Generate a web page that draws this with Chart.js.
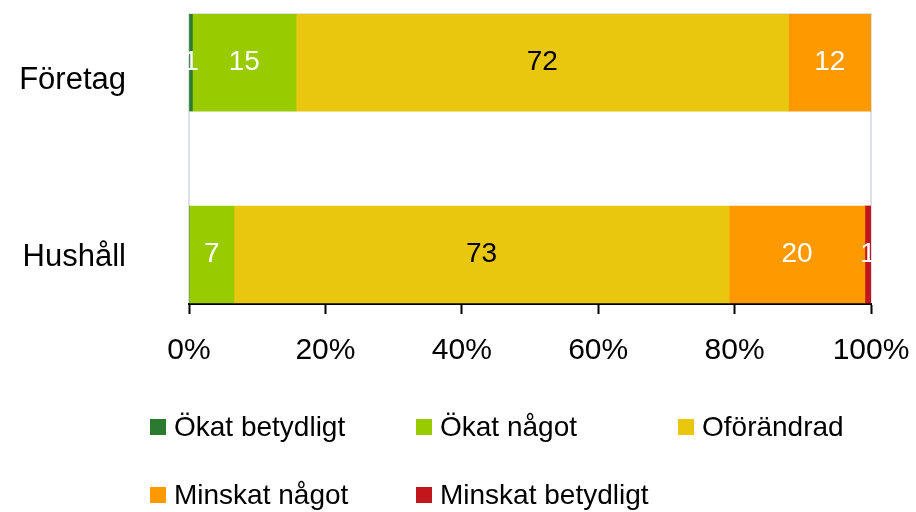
<!DOCTYPE html>
<html>
<head>
<meta charset="utf-8">
<script src="https://cdn.jsdelivr.net/npm/chart.js@4"></script>
<style>
  body { margin: 0; background: #fff; }
  #wrap { position: relative; width: 916px; height: 512px; }
  #legend {
    position: absolute; left: 150px; top: 393px;
    display: grid; grid-template-columns: 266px 262px 240px; grid-auto-rows: 68px;
    font-family: "Liberation Sans", Arial, sans-serif; font-size: 28px; color: #000;
  }
  .item { display: flex; align-items: center; height: 68px; white-space: nowrap; }
  .box { width: 16px; height: 16px; margin-right: 8px; flex: none; }
</style>
</head>
<body>
<div id="wrap">
  <canvas id="myChart" width="916" height="512"></canvas>
  <div id="legend"></div>
</div>
<script>
// categories (rows, top to bottom)
var categories = ["Företag", "Hushåll"]

// share of answers in percent, one array per answer
var okatBetydligt    = [0.5, 0]
var okatNagot        = [15.2, 6.6]
var oforandrad       = [72.2, 72.6]
var minskatNagot     = [12.1, 19.9]
var minskatBetydligt = [0, 0.9]

var seriesNames  = ["Ökat betydligt", "Ökat något", "Oförändrad", "Minskat något", "Minskat betydligt"]
var seriesValues = [okatBetydligt, okatNagot, oforandrad, minskatNagot, minskatBetydligt]
var seriesColors = ["#2b7a30", "#99cc00", "#e8c70e", "#ff9900", "#c1161b"]
var labelColors  = ["#fff", "#fff", "#000", "#fff", "#fff"]

var xTicks = [0, 20, 40, 60, 80, 100]

var FONT = "'Liberation Sans', Arial, sans-serif"

var datasets = seriesValues.map(function (vals, i) {
  return {
    label: seriesNames[i],
    backgroundColor: seriesColors[i],
    borderWidth: 0,
    barThickness: 97,
    data: vals.map(function (v, j) { return { x: v, y: j } })
  }
})

// thin grey frame round the plot area
var frame = {
  id: "frame",
  beforeDraw: function (chart) {
    var a = chart.chartArea, ctx = chart.ctx
    ctx.save()
    ctx.strokeStyle = "#d3d6e2"
    ctx.lineWidth = 1.5
    ctx.strokeRect(a.left, a.top, a.right - a.left, a.bottom - a.top)
    ctx.restore()
  }
}

// rounded value inside every segment
var valueLabels = {
  id: "valueLabels",
  afterDatasetsDraw: function (chart) {
    var ctx = chart.ctx
    ctx.save()
    ctx.font = "28px " + FONT
    ctx.textAlign = "center"
    ctx.textBaseline = "middle"
    chart.data.datasets.forEach(function (ds, i) {
      chart.getDatasetMeta(i).data.forEach(function (bar, j) {
        var v = Math.round(ds.data[j].x)
        if (!v) return
        var p = bar.getCenterPoint()
        ctx.fillStyle = labelColors[i]
        ctx.fillText(v, p.x, p.y)
      })
    })
    ctx.restore()
  }
}

var ctx = document.getElementById("myChart").getContext("2d")
var chart = new Chart(ctx, {
  type: "bar",
  data: { datasets: datasets },
  plugins: [frame, valueLabels],
  options: {
    indexAxis: "y",
    responsive: false,
    animation: false,
    devicePixelRatio: 1,
    layout: { padding: { top: 14, right: 45, left: 0, bottom: 0 } },
    plugins: { legend: { display: false }, tooltip: { enabled: false } },
    scales: {
      x: {
        stacked: true,
        min: 0,
        max: 100,
        afterBuildTicks: function (s) { s.ticks = xTicks.map(function (v) { return { value: v } }) },
        afterFit: function (s) { s.height = 512 - 304 },
        border: { display: true, color: "#000", width: 2 },
        grid: { drawOnChartArea: false, drawTicks: true, tickLength: 10, tickColor: "#000", tickWidth: 2 },
        ticks: { color: "#000", padding: 0, maxRotation: 0, font: { size: 30, family: FONT, lineHeight: 2.45 }, callback: function (v) { return v + "%" } }
      },
      y: {
        type: "linear",
        stacked: true,
        reverse: true,
        display: false,
        offset: false,
        grid: { offset: false },
        min: -0.253,
        max: 1.258
      },
      yl: {
        type: "linear",
        position: "left",
        reverse: true,
        offset: false,
        min: -0.377,
        max: 1.266,
        afterBuildTicks: function (s) { s.ticks = categories.map(function (c, i) { return { value: i } }) },
        afterFit: function (s) { s.width = 189 },
        border: { display: false },
        grid: { display: false, offset: false, drawTicks: true, tickLength: 63 },
        ticks: { color: "#000", padding: 0, font: { size: 31, family: FONT, lineHeight: 0.8 }, callback: function (v) { return categories[Math.round(v)] } }
      }
    }
  }
})

// legend built from the datasets
var legend = document.getElementById("legend")
datasets.forEach(function (ds) {
  var item = document.createElement("div")
  item.className = "item"
  item.innerHTML = '<span class="box" style="background:' + ds.backgroundColor + '"></span>' + ds.label
  legend.appendChild(item)
})
</script>
</body>
</html>
